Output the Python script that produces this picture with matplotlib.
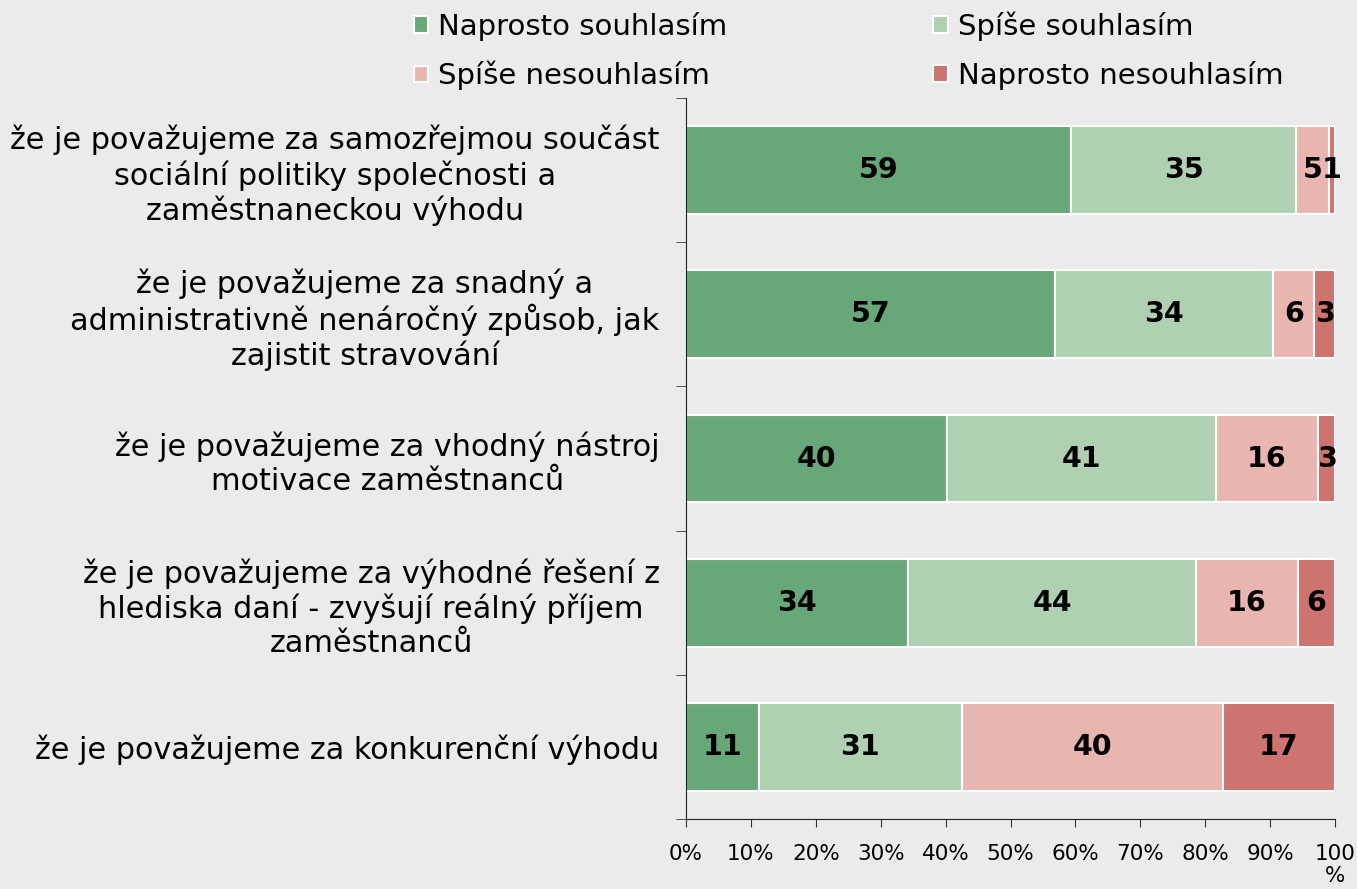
import numpy as np
import matplotlib
matplotlib.use("Agg")
import matplotlib.pyplot as plt

# data (percent of respondents)
categories = [
    "že je považujeme za samozřejmou součást\nsociální politiky společnosti a\nzaměstnaneckou výhodu",
    "že je považujeme za snadný a\nadministrativně nenáročný způsob, jak\nzajistit stravování",
    "že je považujeme za vhodný nástroj\nmotivace zaměstnanců",
    "že je považujeme za výhodné řešení z\nhlediska daní - zvyšují reálný příjem\nzaměstnanců",
    "že je považujeme za konkurenční výhodu",
]
series_names = ["Naprosto souhlasím", "Spíše souhlasím", "Spíše nesouhlasím", "Naprosto nesouhlasím"]
naprosto_souhlasim = [59.3, 56.9, 40.2, 34.2, 11.2]
spise_souhlasim = [34.7, 33.6, 41.4, 44.4, 31.3]
spise_nesouhlasim = [5.1, 6.3, 15.8, 15.7, 40.2]
naprosto_nesouhlasim = [0.9, 3.2, 2.6, 5.7, 17.3]
x_ticks = [0, 10, 20, 30, 40, 50, 60, 70, 80, 90, 100]
x_tick_labels = ["0%", "10%", "20%", "30%", "40%", "50%", "60%", "70%", "80%", "90%", "100\n%"]

colors = ["#68a878", "#afd1b2", "#e8b5b0", "#cd7370"]
bg = "#ebebeb"

plt.rcParams['font.family'] = ['DejaVu Sans']

fig = plt.figure(figsize=(13.57, 8.89), dpi=100, facecolor=bg)
ax = fig.add_axes([686/1357, 1-819/889, (1335-686)/1357, (819-98)/889])
ax.set_facecolor(bg)

y = np.arange(len(categories))
data = [naprosto_souhlasim, spise_souhlasim, spise_nesouhlasim, naprosto_nesouhlasim]
left = np.zeros(len(categories))
handles = []
for vals, name, col in zip(data, series_names, colors):
    vals = np.array(vals)
    bars = ax.barh(y, vals, left=left, height=0.61, color=col, edgecolor="white",
                   linewidth=1.5, label=name)
    handles.append(bars)
    for yi, l, v in zip(y, left, vals):
        ax.text(l + v/2, yi, "%d" % round(v), ha="center", va="center",
                fontsize=20.5, fontweight="bold", color="black")
    left += vals

ax.set_xlim(0, 100)
ax.set_ylim(len(categories) - 0.5, -0.5)
ax.set_yticks(y)
ax.set_yticklabels(categories, fontsize=21.8, linespacing=1.2)
for lbl in ax.get_yticklabels():
    lbl.set_multialignment("center")
ax.set_yticks(np.arange(-0.5, len(categories)), minor=True)
ax.tick_params(axis="y", which="major", length=0, pad=19)
ax.tick_params(axis="y", which="minor", length=7, direction="out", color="#333333")
ax.set_xticks(x_ticks)
ax.set_xticklabels(x_tick_labels, fontsize=15.5, linespacing=1.1)
ax.tick_params(axis="x", length=6, direction="out", color="#333333", pad=12)

for s in ["top", "right"]:
    ax.spines[s].set_visible(False)
for s in ["left", "bottom"]:
    ax.spines[s].set_color("#222222")

order = [0, 2, 1, 3]
fig.legend([handles[i] for i in order], [series_names[i] for i in order],
           ncol=2, loc="upper left", bbox_to_anchor=(399/1357, 1 + 3/889), frameon=False,
           borderpad=0, fontsize=21, handlelength=0.5, handleheight=0.5, handletextpad=0.35,
           columnspacing=7.05, labelspacing=0.68)

fig.savefig("out.png", dpi=100, facecolor=bg)
